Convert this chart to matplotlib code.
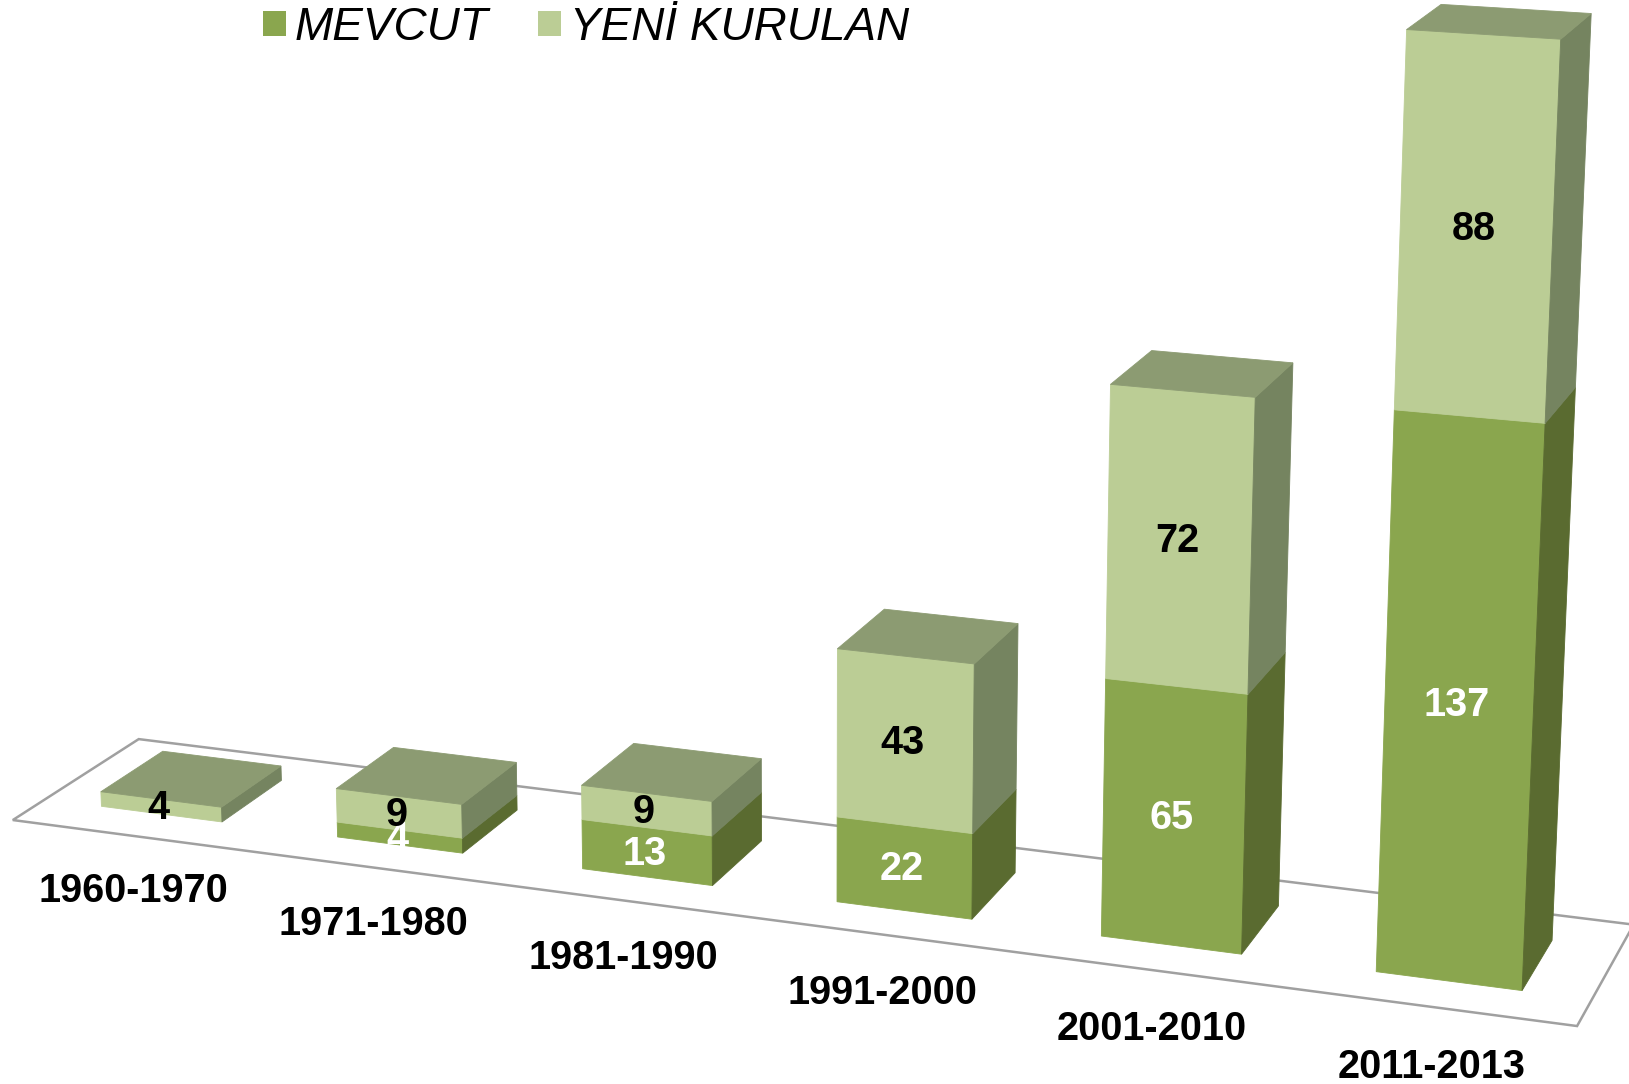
import numpy as np
import matplotlib
matplotlib.use("Agg")
import matplotlib.pyplot as plt
from matplotlib.patches import Polygon, Patch

# ---- data ----
periods = ["1960-1970", "1971-1980", "1981-1990", "1991-2000", "2001-2010", "2011-2013"]
mevcut = [0, 4, 13, 22, 65, 137]
yeni = [4, 9, 9, 43, 72, 88]
series_names = ["MEVCUT", "YENİ KURULAN"]

# ---- styling ----
FONT = "Liberation Sans"
BAR_W = 0.515
C_M, C_M_SIDE = "#8aa64e", "#5a6b30"
C_Y, C_Y_SIDE, C_TOP = "#bbcd95", "#758460", "#8c9b72"
C_FLOOR = "#a0a0a0"

# ---- camera: (category, depth, value) -> canvas, solved from reference marks ----
W = BAR_W
camera_world = [
    (0, 0, 0), (W, 0, 0), (0, 0, 4), (W, 0, 4), (0, 1, 4), (W, 1, 4), (W, 1, 0),
    (1, 0, 0), (1 + W, 0, 0), (1, 0, 13), (1 + W, 0, 13), (1, 1, 13), (1 + W, 1, 13), (1 + W, 1, 0),
    (2, 0, 0), (2 + W, 0, 0), (2, 0, 22), (2 + W, 0, 22), (2, 1, 22), (2 + W, 1, 22), (2 + W, 1, 0),
    (3, 0, 0), (3 + W, 0, 0), (3, 0, 65), (3 + W, 0, 65), (3, 1, 65), (3 + W, 1, 65), (3 + W, 1, 0),
    (4, 0, 0), (4 + W, 0, 0), (4, 0, 137), (4 + W, 0, 137), (4, 1, 137), (4 + W, 1, 137), (4 + W, 1, 0),
    (5, 0, 0), (5 + W, 0, 0), (5, 0, 225), (5 + W, 0, 225), (5, 1, 225), (5 + W, 1, 225), (5 + W, 1, 0),
    (5, 0, 137), (5 + W, 0, 137), (5 + W, 1, 137),
]
camera_canvas = [
    (101, 807), (222, 821), (101, 792), (222, 807), (163, 752), (281, 766), (281, 780),
    (337, 837), (463, 853), (337, 789), (462, 805), (394, 748), (516, 762), (516, 810),
    (582, 869), (713, 885), (582, 786), (711, 801), (634, 743), (761, 758), (762, 840),
    (837, 902), (971, 919), (837, 649), (975, 663), (885, 609), (1018, 623), (1015, 873),
    (1101, 937), (1242, 953), (1111, 385), (1254, 397), (1152, 351), (1293, 363), (1279, 905),
    (1376, 972), (1523, 990), (1407, 29), (1560, 39), (1442, 4), (1591, 13), (1552, 942),
    (1395, 411), (1545, 423), (1574, 389),
]


def solve_camera(world, canvas):
    rows = []
    rhs = []
    for (x, y, z), (u, v) in zip(world, canvas):
        rows.append([x, y, z, 1, 0, 0, 0, 0, -u * x, -u * y, -u * z])
        rhs.append(u)
        rows.append([0, 0, 0, 0, x, y, z, 1, -v * x, -v * y, -v * z])
        rhs.append(v)
    a, *_ = np.linalg.lstsq(np.array(rows, float), np.array(rhs, float), rcond=None)
    return np.append(a, 1.0).reshape(3, 4)


P = solve_camera(camera_world, camera_canvas)


def proj(x, y, z):
    h = P @ np.array([x, y, z, 1.0])
    return h[0] / h[2], h[1] / h[2]


# ---- figure ----
plt.rcParams["font.family"] = [FONT, "DejaVu Sans"]
fig = plt.figure(figsize=(16.29, 10.84), dpi=100, facecolor="white")
ax = fig.add_axes([0, 0, 1, 1])
ax.set_xlim(0, 1629)
ax.set_ylim(1084, 0)
ax.axis("off")


def face(pts, color, z=2):
    ax.add_patch(Polygon([proj(*p) for p in pts], closed=True, facecolor=color,
                         edgecolor=color, linewidth=0.6, zorder=z))


def value_label(x, z, s, color, order):
    u, v = proj(x, 0, z)
    ax.annotate(s, (u, v), xytext=(-1.8, 1.8), textcoords="offset points", color=color,
                fontsize=28.5, fontweight="bold", ha="center", va="center_baseline", zorder=order)


# floor
x0, x1 = -0.2425, len(periods) - 0.2425
y0, y1 = -0.5, 1.5
floor = [proj(x0, y0, 0), proj(x1, y0, 0), proj(x1, y1, 0), proj(x0, y1, 0)]
ax.add_patch(Polygon(floor, closed=True, facecolor="white", edgecolor=C_FLOOR,
                     linewidth=1.8, zorder=1, joinstyle="miter"))

# bars
for i, (m, n) in enumerate(zip(mevcut, yeni)):
    a, b = i, i + BAR_W
    for lo, hi, front, side in ((0, m, C_M, C_M_SIDE), (m, m + n, C_Y, C_Y_SIDE)):
        if hi <= lo:
            continue
        face([(a, 0, lo), (b, 0, lo), (b, 0, hi), (a, 0, hi)], front)
        face([(b, 0, lo), (b, 1, lo), (b, 1, hi), (b, 0, hi)], side)
    t = m + n
    face([(a, 0, t), (b, 0, t), (b, 1, t), (a, 1, t)], C_TOP)

    cx = i + BAR_W / 2
    if m:
        value_label(cx, m / 2, str(m), "white", 5)
    value_label(cx, m + n / 2, str(n), "black", 6)
    u, v = proj(cx, -0.5, -14)
    ax.annotate(periods[i], (u, v), xytext=(1.2, 0), textcoords="offset points", color="black",
                fontsize=28.5, fontweight="bold", ha="center", va="center_baseline", zorder=6)

# legend
handles = [Patch(facecolor=C_M, edgecolor="none"), Patch(facecolor=C_Y, edgecolor="none")]
fs = 33
em = fs * 100 / 72
ax.legend(handles, series_names, ncol=2, loc="upper left", frameon=False,
          bbox_to_anchor=(262 / 1629, 1 - 5 / 1084), bbox_transform=fig.transFigure,
          prop={"family": FONT, "style": "italic", "size": fs},
          borderpad=0.02, borderaxespad=0, handlelength=23 / em, handleheight=22 / em,
          handletextpad=9 / em, columnspacing=49 / em, labelspacing=0)

fig.savefig("out.png", dpi=100, facecolor="white")
